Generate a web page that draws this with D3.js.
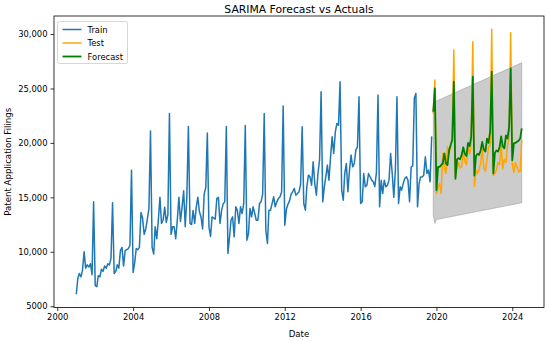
<!DOCTYPE html>
<html>
<head>
<meta charset="utf-8">
<script src="https://cdn.jsdelivr.net/npm/d3@7"></script>
<style>
  html, body { margin: 0; padding: 0; background: #fff; }
  svg { display: block; font-family: "DejaVu Sans", sans-serif; }
</style>
</head>
<body>
<svg id="chart" width="550" height="341"></svg>
<script>
// ---------------- DATA ----------------
const trainStart = "2001-01";
const trainValues = [
  // 2001
  6100, 7600, 8000, 7700, 8300, 10000, 8500, 8800, 8600, 8900, 7900, 14600,
  // 2002
  6900, 6800, 7800, 7700, 8400, 8200, 8700, 8500, 8900, 8800, 9400, 14500,
  // 2003
  8000, 8200, 8800, 8500, 10100, 10400, 8700, 10100, 10200, 10300, 10600, 17500,
  // 2004
  8100, 9000, 10300, 10200, 10400, 13600, 13100, 11600, 12100, 13000, 14000, 21100,
  // 2005
  10400, 9800, 12300, 11200, 12900, 15000, 12600, 12900, 14100, 12700, 13400, 22700,
  // 2006
  11600, 12300, 12300, 11200, 12900, 15000, 12800, 14100, 15600, 12300, 15000, 21500,
  // 2007
  12600, 12500, 13800, 12600, 14100, 15000, 13700, 13200, 12100, 15300, 15900, 20900,
  // 2008
  12300, 11400, 13200, 13100, 13000, 14900, 15000, 12600, 13800, 14400, 14600, 21500,
  // 2009
  9840, 11370, 12900, 13210, 11370, 14130, 13800, 12600, 14130, 13520, 14430, 21600,
  // 2010
  11070, 11680, 13980, 13210, 14130, 13520, 12900, 12900, 14430, 14600, 15300, 22710,
  // 2011
  11980, 10760, 13820, 13820, 14430, 15050, 14130, 14590, 14900, 15050, 15500, 23380,
  // 2012
  12440, 13900, 14360, 14670, 15280, 15510, 15810, 15200, 15350, 15510, 16200, 21480,
  // 2013
  14435, 13820, 15970, 17040, 16890, 16120, 18260, 16270, 15200, 17190, 18420, 24700,
  // 2014
  14590, 15970, 16890, 17960, 16580, 18720, 20560, 19030, 21020, 21790, 21630, 25620,
  // 2015
  15660, 14740, 17190, 18110, 15510, 17500, 18880, 17800, 18110, 19340, 19640, 24240,
  // 2016
  14435, 14590, 17190, 15970, 16120, 17190, 16890, 16580, 16430, 16000, 17300, 24390,
  // 2017
  14130, 16580, 15350, 16580, 15970, 16120, 16580, 19030, 17190, 15000, 17500, 24240,
  // 2018
  14435, 15970, 15660, 16270, 16740, 16890, 16580, 14590, 17800, 17900, 24100, 24550,
  // 2019 (Jan-Oct)
  14130, 16270, 16880, 16880, 17040, 18720, 17200, 17500, 16430, 20600
];

const testStart = "2019-11";
const testValues = [
  // 2019 Nov-Dec
  22700, 25770,
  // 2020
  15350, 15900, 16270, 15350, 19030, 17800, 17190, 19640, 19030, 19640, 20500, 28530,
  // 2021
  16900, 17700, 18200, 17700, 17800, 19300, 18300, 18000, 19600, 19000, 20000, 29290,
  // 2022
  16000, 17500, 17200, 17500, 18100, 19500, 17700, 17400, 18500, 19600, 19800, 30440,
  // 2023
  17000, 17200, 17500, 18200, 18000, 19800, 17600, 18500, 18200, 19800, 20500, 30120,
  // 2024 Jan-Jul
  18100, 17300, 18200, 17800, 17340, 17400, 20300
];

const forecastValues = [
  // 2019 Nov-Dec
  22860, 25000,
  // 2020
  15660, 17800, 17800, 17960, 18110, 19030, 18110, 17960, 19340, 19800, 20300, 25620,
  // 2021
  16700, 18500, 18600, 18500, 18900, 19600, 19000, 18800, 20000, 19700, 20600, 26080,
  // 2022
  17000, 18800, 19000, 18900, 19300, 20100, 19400, 19200, 20400, 20000, 21100, 26540,
  // 2023
  17200, 19100, 19300, 19200, 19600, 20600, 19700, 19500, 20700, 20400, 21500, 26840,
  // 2024 Jan-Jul
  18420, 19950, 20000, 20100, 20200, 20400, 21330
];

// confidence band, read at its corner points
const bandDates = ["2019-11", "2019-12", "2020-01", "2024-07"];
const bandLower = [13360, 12600, 12960, 14500];
const bandUpper = [23000, 23780, 23850, 27360];

const yTickValues = [5000, 10000, 15000, 20000, 25000, 30000];
const yTickLabels = ["5000", "10,000", "15,000", "20,000", "25,000", "30,000"];
const xTickYears = [2000, 2004, 2008, 2012, 2016, 2020, 2024];

const titleText = "SARIMA Forecast vs Actuals";
const xLabel = "Date";
const yLabel = "Patent Application Filings";
const legendLabels = ["Train", "Test", "Forecast"];
const colors = { train: "#1f77b4", test: "#ffa500", forecast: "#008000" };

// ---------------- BUILD ----------------
const parseMonth = d3.timeParse("%Y-%m");
function monthly(start, values) {
  const s = parseMonth(start);
  return values.map((v, i) => ({ date: d3.timeMonth.offset(s, i), value: v }));
}
const train = monthly(trainStart, trainValues);
const test = monthly(testStart, testValues);
const forecast = monthly(testStart, forecastValues);
const band = bandDates.map((d, i) => ({ date: parseMonth(d), lo: bandLower[i], hi: bandUpper[i] }));

const L = 54, R = 544, T = 16, B = 307.5;

const allDates = train.concat(test).map(d => d.date);
const [dMin, dMax] = d3.extent(allDates);
const span = dMax - dMin;
const x = d3.scaleTime()
  .domain([new Date(+dMin - span * 0.05), new Date(+dMax + span * 0.05)])
  .range([L, R]);

const allVals = trainValues.concat(testValues, forecastValues, bandLower, bandUpper);
const [vMin, vMax] = d3.extent(allVals);
const vr = vMax - vMin;
const y = d3.scaleLinear()
  .domain([vMin - vr * 0.05, vMax + vr * 0.05])
  .range([B, T]);

const svg = d3.select("#chart");
svg.append("rect").attr("width", 550).attr("height", 341).attr("fill", "#fff");

const g = svg.append("g");

// band
g.append("path")
  .datum(band)
  .attr("d", d3.area().x(d => x(d.date)).y0(d => y(d.lo)).y1(d => y(d.hi)))
  .attr("fill", "#808080").attr("fill-opacity", 0.4)
  .attr("stroke", "#808080").attr("stroke-opacity", 0.4).attr("stroke-width", 1);

const line = d3.line().x(d => x(d.date)).y(d => y(d.value));
g.append("path").datum(train).attr("d", line)
  .attr("fill", "none").attr("stroke", colors.train).attr("stroke-width", 1.5)
  .attr("stroke-linejoin", "round");
g.append("path").datum(test).attr("d", line)
  .attr("fill", "none").attr("stroke", colors.test).attr("stroke-width", 1.5)
  .attr("stroke-linejoin", "round");
g.append("path").datum(forecast).attr("d", line)
  .attr("fill", "none").attr("stroke", colors.forecast).attr("stroke-width", 1.8)
  .attr("stroke-linejoin", "round");

// axes
const xAxis = d3.axisBottom(x)
  .tickValues(xTickYears.map(yy => new Date(yy, 0, 1)))
  .tickFormat(d3.timeFormat("%Y"))
  .tickSize(3.5).tickPadding(3);
const xg = svg.append("g").attr("transform", `translate(0,${B})`).call(xAxis);
const yAxis = d3.axisLeft(y)
  .tickValues(yTickValues)
  .tickFormat((d, i) => yTickLabels[i])
  .tickSize(3.5).tickPadding(3);
const yg = svg.append("g").attr("transform", `translate(${L},0)`).call(yAxis);
[xg, yg].forEach(a => {
  a.select(".domain").remove();
  a.selectAll(".tick line").attr("stroke", "#000").attr("stroke-width", 0.8);
  a.selectAll(".tick text").attr("fill", "#000").style("font-size", "8.4px")
    .style("font-family", "DejaVu Sans");
});

// frame
svg.append("rect").attr("x", L).attr("y", T).attr("width", R - L).attr("height", B - T)
  .attr("fill", "none").attr("stroke", "#000").attr("stroke-width", 0.8);

// title & labels
svg.append("text").attr("x", (L + R) / 2).attr("y", 12.5).attr("text-anchor", "middle")
  .style("font-size", "10.8px").text(titleText);
svg.append("text").attr("x", (L + R) / 2).attr("y", 337).attr("text-anchor", "middle")
  .style("font-size", "8.6px").text(xLabel);
svg.append("text").attr("transform", `translate(11,${(T + B) / 2}) rotate(-90)`)
  .attr("text-anchor", "middle").style("font-size", "8.6px").text(yLabel);

// legend
const lg = svg.append("g").attr("transform", "translate(57.5,21.5)");
lg.append("rect").attr("width", 70).attr("height", 42).attr("rx", 2)
  .attr("fill", "#fff").attr("fill-opacity", 0.8)
  .attr("stroke", "#cccccc").attr("stroke-width", 0.8);
const legColors = [colors.train, colors.test, colors.forecast];
const legWidths = [1.5, 1.5, 1.8];
legendLabels.forEach((lab, i) => {
  const cy = 8 + i * 13.5;
  lg.append("line").attr("x1", 5).attr("x2", 24).attr("y1", cy).attr("y2", cy)
    .attr("stroke", legColors[i]).attr("stroke-width", legWidths[i]);
  lg.append("text").attr("x", 30).attr("y", cy + 3).style("font-size", "8.4px").text(lab);
});
</script>
</body>
</html>
